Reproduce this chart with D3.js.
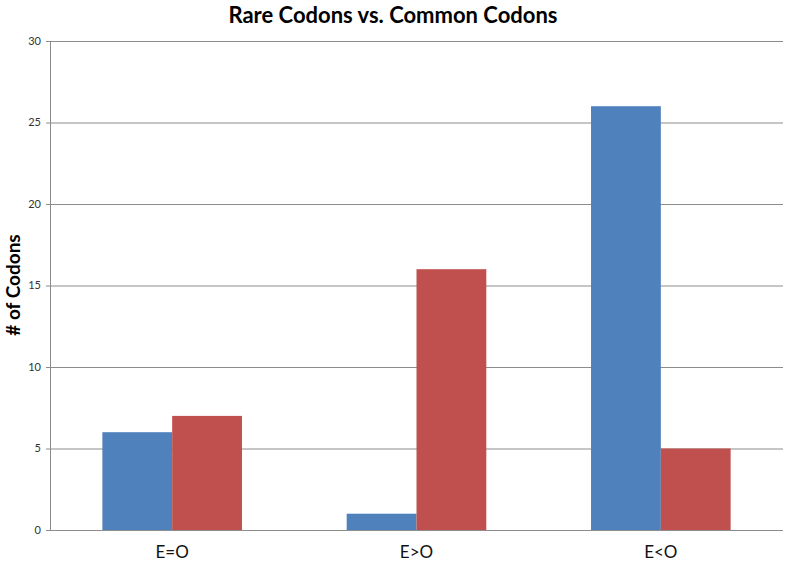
<!DOCTYPE html>
<html><head><meta charset="utf-8">
<script src="https://cdn.jsdelivr.net/npm/d3@7"></script>
<style>body{margin:0;background:#fff}svg{display:block}</style>
</head><body>
<svg id="c" width="787" height="569"></svg>
<script>
const categories = ["E=O", "E>O", "E<O"];
const seriesNames = ["Rare", "Common"];
const rareValues = [6, 1, 26];
const commonValues = [7, 16, 5];
const yTicks = [0, 5, 10, 15, 20, 25, 30];
const colors = ["#4F81BD", "#C0504D"];

const svg = d3.select("#c");
const W = 787, H = 569;
const m = {left: 50, right: 4, top: 41, bottom: 39};
const font = "Lato, 'Open Sans', sans-serif";

const x = d3.scaleBand().domain(categories).range([m.left, W - m.right]).paddingInner(0).paddingOuter(0);
const x1 = d3.scaleBand().domain(seriesNames).range([0, x.bandwidth()]).paddingInner(0).paddingOuter(0.75);
const y = d3.scaleLinear().domain([0, 30]).range([H - m.bottom, m.top]);

// gridlines
svg.append("g").selectAll("line").data(yTicks).join("line")
  .attr("x1", m.left - 4).attr("x2", W - m.right)
  .attr("y1", d => y(d) + 0.5).attr("y2", d => y(d) + 0.5)
  .attr("stroke", "#8c8c8c").attr("stroke-width", 1);

// y axis line
svg.append("line").attr("x1", m.left + 0.5).attr("x2", m.left + 0.5)
  .attr("y1", y(30)).attr("y2", y(0)).attr("stroke", "#8c8c8c");

// tick labels
svg.append("g").selectAll("text").data(yTicks).join("text")
  .attr("x", m.left - 9).attr("y", d => y(d)).attr("dy", "0.35em")
  .attr("text-anchor", "end").attr("font-family", font).attr("font-size", 11)
  .attr("fill", "#333").text(d => d);

const data = categories.map((c, i) => ({c, vals: [rareValues[i], commonValues[i]]}));
const g = svg.append("g").selectAll("g").data(data).join("g")
  .attr("transform", d => `translate(${x(d.c)},0)`);
g.selectAll("rect").data(d => d.vals.map((v, j) => ({s: seriesNames[j], v, j}))).join("rect")
  .attr("x", d => x1(d.s)).attr("width", x1.bandwidth())
  .attr("y", d => y(d.v)).attr("height", d => y(0) - y(d.v))
  .attr("fill", d => colors[d.j]);

// category labels
svg.append("g").selectAll("text").data(categories).join("text")
  .attr("x", d => x(d) + x.bandwidth() / 2).attr("y", 558)
  .attr("text-anchor", "middle").attr("font-family", font).attr("font-size", 17)
  .attr("fill", "#111").text(d => d);

// title
svg.append("text").attr("x", 393).attr("y", 23).attr("text-anchor", "middle")
  .attr("font-family", font).attr("font-weight", "bold").attr("font-size", 22)
  .attr("fill", "#000").text("Rare Codons vs. Common Codons");

// y label
svg.append("text").attr("transform", `translate(20,${285}) rotate(-90)`)
  .attr("text-anchor", "middle").attr("font-family", font).attr("font-weight", "bold")
  .attr("font-size", 19).attr("fill", "#000").text("# of Codons");
</script>
</body></html>
